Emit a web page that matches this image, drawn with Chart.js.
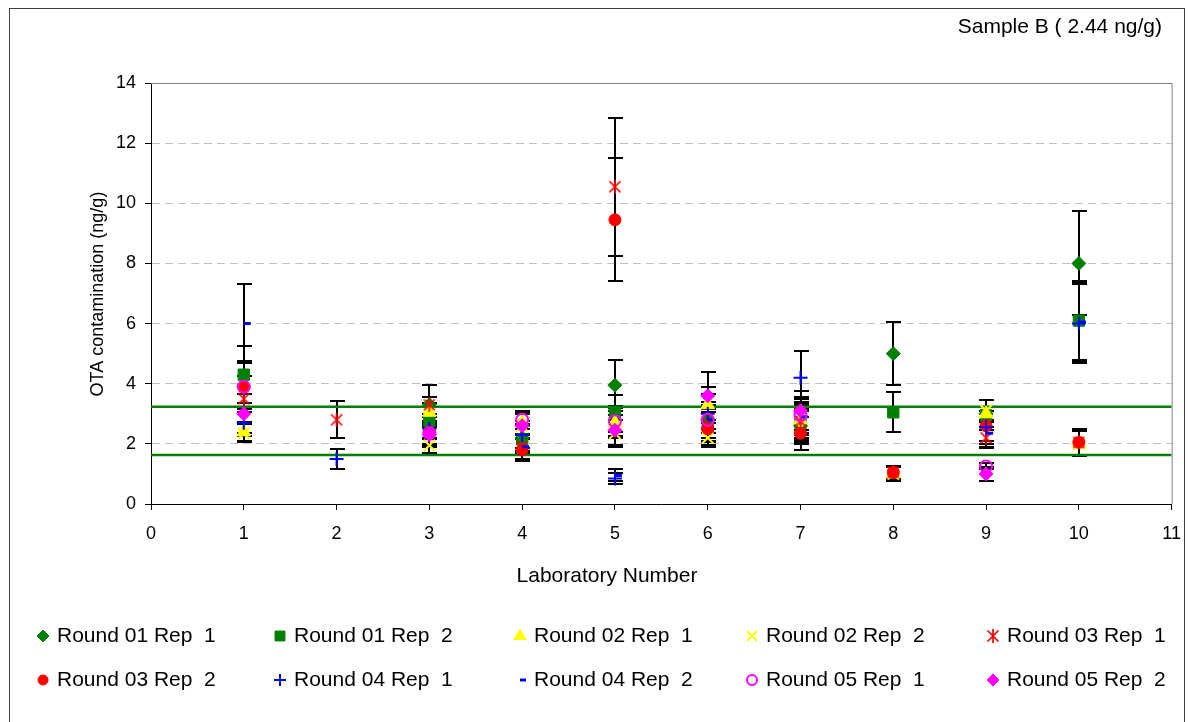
<!DOCTYPE html>
<html>
<head>
<meta charset="utf-8">
<title>Sample B - OTA contamination</title>
<script src="https://cdn.jsdelivr.net/npm/chart.js@4/dist/chart.umd.min.js"></script>
<style>
  body { margin: 0; background: #fff; }
  canvas { display: block; }
</style>
</head>
<body>
<canvas id="ota-chart" width="1194" height="722"></canvas>
<script>
// laboratory numbers on the x axis
const labs = [1, 2, 3, 4, 5, 6, 7, 8, 9, 10];

// measured values per round / replicate (null = not reported)
const r01rep1 = [3.9, null, 3.3, 2.2, 3.95, 2.8, 2.6, 5.0, 3.0, 8.0];
const r01rep2 = [4.3, null, 2.75, 2.15, 3.0, 2.6, 2.7, 3.05, 2.95, 6.1];
const r02rep1 = [2.4, null, 3.05, 2.7, 2.7, 3.3, 2.8, 1.0, 3.0, 2.0];
const r02rep2 = [2.35, null, 1.95, 2.6, 2.35, 2.2, 2.55, 1.0, 3.1, 2.0];
const r03rep1 = [3.5, 2.8, 3.3, 1.9, 10.55, 2.7, 2.75, 1.05, 2.2, 2.05];
const r03rep2 = [3.9, null, 2.4, 1.8, 9.45, 2.5, 2.35, 1.05, 2.6, 2.05];
const r04rep1 = [2.7, 1.5, 2.5, 2.3, 0.85, 3.0, 4.2, null, 2.55, 6.0];
const r04rep2 = [6.0, null, null, 1.9, 0.95, 2.8, 2.9, null, 2.35, 6.05];
const r05rep1 = [3.9, null, 2.35, 2.8, 2.75, 2.8, 2.95, null, 1.25, null];
const r05rep2 = [3.0, null, 2.3, 2.6, 2.45, 3.6, 3.1, null, 1.0, null];

// error bar half widths
const r01rep1Err = [0.85, null, 0.65, 0.45, 0.85, 0.6, 0.55, 1.05, 0.45, 1.73];
const r01rep2Err = [0.95, null, 0.6, 0.45, 0.62, 0.55, 0.6, 0.67, 0.5, 1.3];
const r02rep1Err = [0.3, null, 0.5, 0.4, 0.5, 0.6, 0.6, 0.22, 0.45, 0.42];
const r02rep2Err = [0.3, null, 0.25, 0.4, 0.45, 0.3, 0.55, 0.22, 0.36, 0.42];
const r03rep1Err = [0.77, 0.62, 0.66, 0.42, 2.3, 0.6, 0.6, 0.23, 0.35, 0.45];
const r03rep2Err = [0.85, null, 0.5, 0.38, 2.05, 0.55, 0.55, 0.23, 0.5, 0.45];
const r04rep1Err = [0.45, 0.33, 0.5, 0.45, 0.17, 0.65, 0.9, null, 0.55, 1.3];
const r04rep2Err = [1.3, null, null, 0.4, 0.2, 0.6, 0.6, null, 0.45, 1.3];
const r05rep1Err = [0.85, null, 0.4, 0.3, 0.5, 0.6, 0.6, null, 0.1, null];
const r05rep2Err = [0.65, null, 0.4, 0.45, 0.5, 0.8, 0.65, null, 0.22, null];

// acceptance limits (green lines)
const limitUpper = 3.23;
const limitLower = 1.63;

const chartTitle = 'Sample B ( 2.44 ng/g)';
const xTitle = 'Laboratory Number';
const yTitle = 'OTA contamination (ng/g)';

const fontFamily = '"Liberation Sans", Arial, sans-serif';

// Excel style asterisk (X with a vertical bar)
function makeStar(color) {
  const c = document.createElement('canvas');
  c.width = 16;
  c.height = 16;
  const g = c.getContext('2d');
  g.strokeStyle = color;
  g.lineWidth = 1.7;
  g.beginPath();
  g.moveTo(2.5, 2.5); g.lineTo(13.5, 13.5);
  g.moveTo(13.5, 2.5); g.lineTo(2.5, 13.5);
  g.moveTo(8, 1); g.lineTo(8, 15);
  g.stroke();
  return c;
}

const series = [
  { label: 'Round 01 Rep  1', values: r01rep1, errs: r01rep1Err, style: 'rectRot', radius: 7, fill: '#008000', line: '#008000', width: 1 },
  { label: 'Round 01 Rep  2', values: r01rep2, errs: r01rep2Err, style: 'rect', radius: 8, fill: '#008000', line: '#008000', width: 1 },
  { label: 'Round 02 Rep  1', values: r02rep1, errs: r02rep1Err, style: 'triangle', radius: 8, fill: '#ffff00', line: '#ffff00', width: 1 },
  { label: 'Round 02 Rep  2', values: r02rep2, errs: r02rep2Err, style: 'crossRot', radius: 8, fill: '#ffff00', line: '#ffff00', width: 2 },
  { label: 'Round 03 Rep  1', values: r03rep1, errs: r03rep1Err, style: makeStar('#ff0000'), radius: 7, fill: '#ff0000', line: '#ff0000', width: 1 },
  { label: 'Round 03 Rep  2', values: r03rep2, errs: r03rep2Err, style: 'circle', radius: 6, fill: '#ff0000', line: '#ff0000', width: 1 },
  { label: 'Round 04 Rep  1', values: r04rep1, errs: r04rep1Err, style: 'cross', radius: 7, fill: '#0000ff', line: '#0000ff', width: 2 },
  { label: 'Round 04 Rep  2', values: r04rep2, errs: r04rep2Err, style: 'dash', radius: 7, fill: '#0000ff', line: '#0000ff', width: 3 },
  { label: 'Round 05 Rep  1', values: r05rep1, errs: r05rep1Err, style: 'circle', radius: 6, fill: 'rgba(0,0,0,0)', line: '#ff00ff', width: 2 },
  { label: 'Round 05 Rep  2', values: r05rep2, errs: r05rep2Err, style: 'rectRot', radius: 7, fill: '#ff00ff', line: '#ff00ff', width: 1 }
];

function toPoints(values, errs) {
  const pts = [];
  labs.forEach((lab, i) => {
    if (values[i] !== null) pts.push({ x: lab, y: values[i], err: errs[i] });
  });
  return pts;
}

const datasets = series.map((s, i) => ({
  label: s.label,
  data: toPoints(s.values, s.errs),
  pointStyle: s.style,
  pointRadius: s.radius,
  pointHoverRadius: s.radius,
  backgroundColor: s.fill,
  borderColor: s.line,
  borderWidth: s.width,
  errorBars: true,
  order: series.length - i
}));

[limitUpper, limitLower].forEach((v) => {
  datasets.push({
    label: 'limit',
    data: [{ x: 0, y: v }, { x: 11, y: v }],
    showLine: true,
    borderColor: '#008000',
    borderWidth: 2.5,
    pointRadius: 0,
    order: 50
  });
});

const framePlugin = {
  id: 'frame',
  beforeDraw(chart) {
    const ctx = chart.ctx;
    ctx.save();
    ctx.fillStyle = '#fff';
    ctx.fillRect(0, 0, chart.width, chart.height);
    ctx.strokeStyle = '#404040';
    ctx.lineWidth = 1;
    ctx.strokeRect(9.5, 8.5, 1175, 720);
    ctx.restore();
  },
  beforeDatasetsDraw(chart) {
    const { ctx, chartArea: a, scales: { x, y } } = chart;
    ctx.save();
    // plot area border
    ctx.strokeStyle = '#808080';
    ctx.lineWidth = 1;
    ctx.beginPath();
    ctx.moveTo(a.left, a.top + 0.5);
    ctx.lineTo(a.right + 0.5, a.top + 0.5);
    ctx.lineTo(a.right + 0.5, a.bottom);
    ctx.stroke();

    // error bars
    ctx.strokeStyle = '#000';
    ctx.lineWidth = 2;
    chart.data.datasets.forEach((ds) => {
      if (!ds.errorBars) return;
      ds.data.forEach((pt) => {
        if (pt.err === null) return;
        const px = Math.round(x.getPixelForValue(pt.x));
        const top = Math.round(y.getPixelForValue(pt.y + pt.err));
        const bot = Math.round(y.getPixelForValue(pt.y - pt.err));
        ctx.beginPath();
        ctx.moveTo(px, top); ctx.lineTo(px, bot);
        ctx.moveTo(px - 7, top); ctx.lineTo(px + 8, top);
        ctx.moveTo(px - 7, bot); ctx.lineTo(px + 8, bot);
        ctx.stroke();
      });
    });
    ctx.restore();
  },
  afterDraw(chart) {
    const ctx = chart.ctx;
    ctx.save();
    ctx.fillStyle = '#000';
    ctx.font = '21px ' + fontFamily;
    ctx.textBaseline = 'middle';

    ctx.textAlign = 'right';
    ctx.fillText(chartTitle, 1162, 27);

    ctx.textAlign = 'center';
    ctx.fillText(xTitle, 607, 576);

    ctx.save();
    ctx.font = '18px ' + fontFamily;
    ctx.translate(98, 294);
    ctx.rotate(-Math.PI / 2);
    ctx.fillText(yTitle, 0, 0);
    ctx.restore();

    // legend, 2 rows x 5 columns
    const colX = [43, 280, 520, 752, 993];
    const rowY = [636, 680];
    series.forEach((s, i) => {
      const mx = colX[i % 5];
      const my = rowY[Math.floor(i / 5)];
      ctx.fillStyle = s.fill;
      ctx.strokeStyle = s.line;
      ctx.lineWidth = s.width;
      Chart.helpers.drawPoint(ctx, { pointStyle: s.style, radius: s.radius - 1, borderWidth: s.width, rotation: 0 }, mx, my);
      ctx.fillStyle = '#000';
      ctx.textAlign = 'left';
      ctx.fillText(s.label, mx + 14, my);
    });
    ctx.restore();
  }
};

new Chart(document.getElementById('ota-chart'), {
  type: 'scatter',
  data: { datasets: datasets },
  options: {
    responsive: false,
    animation: false,
    devicePixelRatio: 1,
    layout: { padding: { top: 83, right: 22, bottom: 0, left: 0 } },
    plugins: {
      legend: { display: false },
      title: { display: false },
      tooltip: { enabled: false }
    },
    scales: {
      x: {
        type: 'linear',
        min: 0,
        max: 11,
        afterFit: (scale) => { scale.height = 218; },
        ticks: { stepSize: 1, color: '#000', padding: 13, maxRotation: 0, font: { size: 18, family: fontFamily } },
        grid: { drawOnChartArea: false, tickLength: 6, tickColor: '#000' },
        border: { color: '#000', width: 1 }
      },
      y: {
        min: 0,
        max: 14,
        afterFit: (scale) => { scale.width = 151; },
        ticks: { stepSize: 2, color: '#000', padding: 9, font: { size: 18, family: fontFamily } },
        grid: {
          color: (c) => (c.tick && c.tick.value === 0 ? 'rgba(0,0,0,0)' : '#c0c0c0'),
          tickColor: '#000',
          tickLength: 6
        },
        border: { color: '#000', width: 1, dash: [8, 5] }
      }
    }
  },
  plugins: [framePlugin]
});
</script>
</body>
</html>
